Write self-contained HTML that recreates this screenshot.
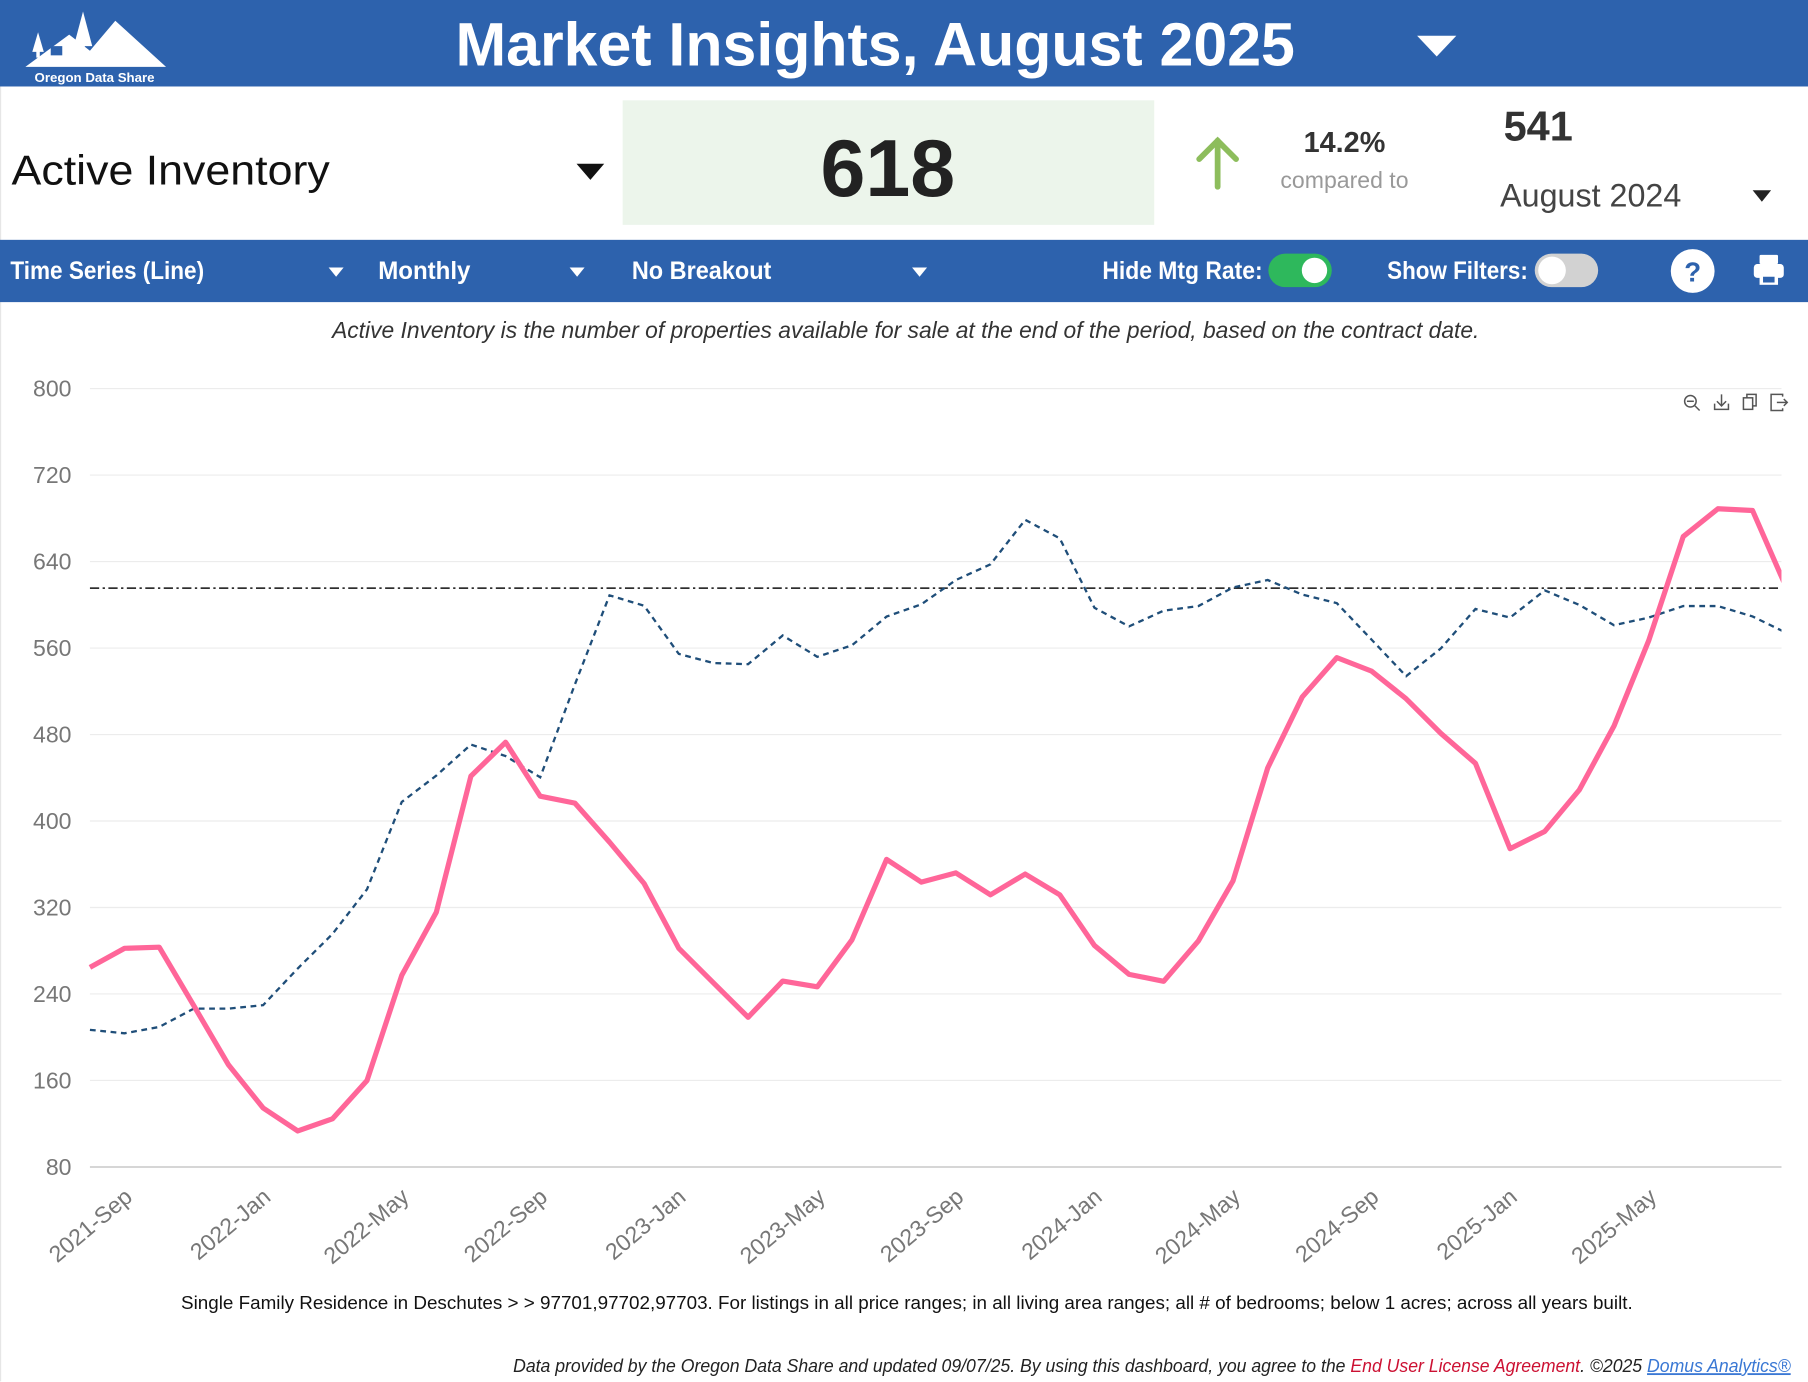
<!DOCTYPE html>
<html><head><meta charset="utf-8"><style>
html,body{margin:0;padding:0;background:#fff;}
svg{display:block;}
text{font-family:"Liberation Sans",sans-serif;}
</style></head><body>
<svg width="1808" height="1382" viewBox="0 0 1568 1198.5" preserveAspectRatio="none" xmlns="http://www.w3.org/2000/svg">
<defs><clipPath id="pc"><rect x="70" y="300" width="1475" height="720"/></clipPath></defs>
<rect width="1568" height="1198.5" fill="#fff"/>
<line x1="0.5" y1="75" x2="0.5" y2="1198" stroke="#e6e6e6"/>
<!-- header -->
<rect x="0" y="0" width="1568" height="75" fill="#2d62ad"/>
<g fill="#fff">
<polygon points="22,58 60,30 78,44 100,18 144,58"/>
<polygon points="28,45 33,28 38,45"/><rect x="31.5" y="44" width="3" height="6"/>
<polygon points="64,40 72,10 80,40"/><rect x="70.5" y="38" width="3" height="8"/>
<text x="82" y="71" font-size="11.5" font-weight="bold" text-anchor="middle">Oregon Data Share</text>
</g>
<rect x="44" y="40" width="10" height="8" fill="#2d62ad"/>
<text x="395" y="57" font-size="53" font-weight="bold" fill="#fff" textLength="728" lengthAdjust="spacingAndGlyphs">Market Insights, August 2025</text>
<polygon points="1229,31 1263,31 1246,49" fill="#fff"/>
<!-- KPI row -->
<text x="10" y="160" font-size="36" fill="#111" textLength="276" lengthAdjust="spacingAndGlyphs">Active Inventory</text>
<polygon points="500,142 524,142 512,156" fill="#111"/>
<rect x="540" y="87" width="461" height="108" fill="#ecf5eb"/>
<text x="770" y="170" font-size="70" font-weight="bold" fill="#222" text-anchor="middle">618</text>
<g stroke="#8dbd5c" stroke-width="5" fill="none" stroke-linecap="round"><line x1="1056" y1="122" x2="1056" y2="162"/><polyline points="1040,138 1056,122 1072,138"/></g>
<text x="1166" y="132" font-size="25" font-weight="bold" fill="#333" text-anchor="middle">14.2%</text>
<text x="1166" y="163" font-size="20" fill="#999" text-anchor="middle">compared to</text>
<text x="1304" y="122" font-size="36" font-weight="bold" fill="#333">541</text>
<text x="1301" y="179" font-size="28" fill="#444">August 2024</text>
<polygon points="1520,165 1536,165 1528,175" fill="#222"/>
<!-- toolbar -->
<rect x="0" y="208" width="1568" height="54" fill="#2d62ad"/>
<g font-size="21.5" font-weight="bold" fill="#fff" lengthAdjust="spacingAndGlyphs">
<text x="9" y="242" textLength="168" lengthAdjust="spacingAndGlyphs">Time Series (Line)</text>
<text x="328" y="242" textLength="80" lengthAdjust="spacingAndGlyphs">Monthly</text>
<text x="548" y="242" textLength="121" lengthAdjust="spacingAndGlyphs">No Breakout</text>
<text x="956" y="242" textLength="139" lengthAdjust="spacingAndGlyphs">Hide Mtg Rate:</text>
<text x="1203" y="242" textLength="122" lengthAdjust="spacingAndGlyphs">Show Filters:</text>
</g>
<g fill="#fff"><polygon points="285,232 298,232 291.5,240"/><polygon points="494,232 507,232 500.5,240"/><polygon points="791,232 804,232 797.5,240"/></g>
<rect x="1100" y="220" width="55" height="29" rx="14.5" fill="#2eb85c"/><circle cx="1140" cy="234.5" r="11" fill="#fff"/>
<rect x="1331" y="220" width="55" height="29" rx="14.5" fill="#d2d2d2"/><circle cx="1346" cy="234.5" r="12" fill="#fff"/>
<circle cx="1468" cy="235" r="19" fill="#fff"/><text x="1468" y="244" font-size="24" font-weight="bold" fill="#2d62ad" text-anchor="middle">?</text>
<g fill="#fff"><rect x="1526" y="221" width="16" height="8" rx="1"/><rect x="1521" y="229" width="26" height="12" rx="3"/><rect x="1526" y="238" width="16" height="9"/></g>
<rect x="1529" y="240" width="10" height="5" fill="#2d62ad"/>
<!-- description -->
<text x="288" y="293" font-size="20" font-style="italic" fill="#333" textLength="995" lengthAdjust="spacingAndGlyphs">Active Inventory is the number of properties available for sale at the end of the period, based on the contract date.</text>
<!-- grid -->
<g stroke="#ececec" stroke-width="1">
<line x1="78" y1="337" x2="1545" y2="337"/><line x1="78" y1="412" x2="1545" y2="412"/><line x1="78" y1="487" x2="1545" y2="487"/><line x1="78" y1="562" x2="1545" y2="562"/><line x1="78" y1="637" x2="1545" y2="637"/><line x1="78" y1="712" x2="1545" y2="712"/><line x1="78" y1="787" x2="1545" y2="787"/><line x1="78" y1="862" x2="1545" y2="862"/><line x1="78" y1="937" x2="1545" y2="937"/>
</g>
<line x1="78" y1="1012" x2="1545" y2="1012" stroke="#c8c8c8" stroke-width="1.3"/>
<g font-size="20" fill="#777" text-anchor="end">
<text x="62" y="344">800</text><text x="62" y="419">720</text><text x="62" y="494">640</text><text x="62" y="569">560</text><text x="62" y="644">480</text><text x="62" y="719">400</text><text x="62" y="794">320</text><text x="62" y="869">240</text><text x="62" y="944">160</text><text x="62" y="1019">80</text>
</g>
<g font-size="20" fill="#777" text-anchor="end">
<text transform="translate(116,1040) rotate(-40)">2021-Sep</text>
<text transform="translate(236,1040) rotate(-40)">2022-Jan</text>
<text transform="translate(356,1040) rotate(-40)">2022-May</text>
<text transform="translate(476,1040) rotate(-40)">2022-Sep</text>
<text transform="translate(596,1040) rotate(-40)">2023-Jan</text>
<text transform="translate(717,1040) rotate(-40)">2023-May</text>
<text transform="translate(837,1040) rotate(-40)">2023-Sep</text>
<text transform="translate(957,1040) rotate(-40)">2024-Jan</text>
<text transform="translate(1077,1040) rotate(-40)">2024-May</text>
<text transform="translate(1197,1040) rotate(-40)">2024-Sep</text>
<text transform="translate(1317,1040) rotate(-40)">2025-Jan</text>
<text transform="translate(1438,1040) rotate(-40)">2025-May</text>
</g>
<!-- toolbox icons -->
<g stroke="#555" stroke-width="1.3" fill="none">
<circle cx="1466" cy="348" r="5"/><line x1="1463" y1="348" x2="1469" y2="348"/><line x1="1470" y1="352" x2="1474" y2="356"/>
<path d="M1487,350 v5 h12 v-5"/><line x1="1493" y1="342" x2="1493" y2="352"/><polyline points="1489,348 1493,352 1497,348"/>
<rect x="1512" y="345" width="8" height="10"/><path d="M1515,345 v-3 h8 v10 h-3"/>
<path d="M1546,344 v-2 h-10 v14 h10 v-2"/><line x1="1541" y1="349" x2="1550" y2="349"/><polyline points="1547,346 1550,349 1547,352"/>
</g>
<!-- reference line -->
<line x1="78" y1="510" x2="1545" y2="510" stroke="#111" stroke-width="1.3" stroke-dasharray="8,3,2,3"/>
<g clip-path="url(#pc)" fill="none">
<polyline stroke="#1f4e79" stroke-width="2" stroke-dasharray="5,4" points="78,893.1 108,896.1 138.1,890.6 168.1,874.7 198.2,874.7 228.2,871.7 258.2,839.9 288.3,810 318.3,771.2 348.4,695.5 378.4,672.6 408.4,645.7 438.5,655.7 468.5,674.1 498.6,593.5 528.6,516.3 558.6,525.3 588.7,567.1 618.7,575 648.8,576 678.8,551.1 708.8,569.6 738.9,559.6 768.9,534.7 799,524.1 829,503 859,489.4 889.1,450.8 919.1,466.9 949.2,527.1 979.2,543.2 1009.2,529.6 1039.3,525.6 1069.3,509.5 1099.4,503 1129.4,515.6 1159.4,523.1 1189.5,554.7 1219.5,586.4 1249.6,562.3 1279.6,528.1 1309.6,535.6 1339.7,512 1369.7,524.6 1399.8,542.2 1429.8,535.6 1459.8,525.6 1489.9,525.6 1519.9,534.6 1550,549.2"/>
<polyline stroke="#ff6699" stroke-width="4.5" stroke-linejoin="round" points="78,838.9 108,822.4 138.1,821.4 168.1,872.2 198.2,923.5 228.2,960.9 258.2,980.8 288.3,970.3 318.3,937 348.4,845.9 378.4,791.1 408.4,673.1 438.5,643.7 468.5,690.5 498.6,696.5 528.6,730.3 558.6,766.2 588.7,822.4 618.7,852.3 648.8,882.2 678.8,850.8 708.8,855.8 738.9,815 768.9,745.3 799,765 829,757 859,776 889.1,758 919.1,776 949.2,820 979.2,845 1009.2,851 1039.3,816 1069.3,764 1099.4,666 1129.4,604.4 1159.4,570.3 1189.5,582 1219.5,606 1249.6,636 1279.6,662 1309.6,736 1339.7,721 1369.7,685 1399.8,629.5 1429.8,555.7 1459.8,465.3 1489.9,441.2 1519.9,442.7 1550,511.5"/>
</g>
<!-- footnotes -->
<text x="157" y="1135" font-size="16" fill="#111" textLength="1259" lengthAdjust="spacingAndGlyphs">Single Family Residence in Deschutes &gt; &gt; 97701,97702,97703. For listings in all price ranges; in all living area ranges; all # of bedrooms; below 1 acres; across all years built.</text>
<text x="445" y="1190" font-size="16" font-style="italic" fill="#222" textLength="1108" lengthAdjust="spacingAndGlyphs">Data provided by the Oregon Data Share and updated 09/07/25.  By using this dashboard, you agree to the <tspan fill="#cc1133">End User License Agreement</tspan>.  ©2025 <tspan fill="#3a78d4" text-decoration="underline">Domus Analytics®</tspan></text>
</svg>
</body></html>
